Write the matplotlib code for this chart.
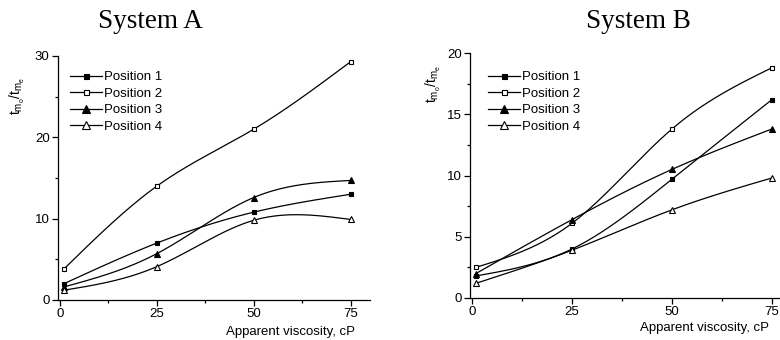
import numpy as np
import matplotlib
matplotlib.use("Agg")
import matplotlib.pyplot as plt
from matplotlib.ticker import MultipleLocator
from matplotlib.lines import Line2D

plt.rcParams['font.family'] = ['Liberation Sans', 'DejaVu Sans']

# apparent viscosity, cP
viscosity = [1, 25, 50, 75]

# System A, t_mo/t_me
a_pos1 = [2.0, 7.0, 10.8, 13.0]
a_pos2 = [3.8, 14.0, 21.0, 29.3]
a_pos3 = [1.6, 5.7, 12.6, 14.7]
a_pos4 = [1.2, 4.1, 9.8, 9.9]

# System B
b_pos1 = [1.8, 4.0, 9.7, 16.2]
b_pos2 = [2.5, 6.1, 13.8, 18.8]
b_pos3 = [2.0, 6.4, 10.5, 13.8]
b_pos4 = [1.2, 3.9, 7.2, 9.8]

labels = ["Position 1", "Position 2", "Position 3", "Position 4"]
markers = ["s", "s", "^", "^"]
faces = ["black", "white", "black", "white"]


# natural cubic spline, only used to draw the smooth connecting line
def spline(x, y, n=200):
    x = np.asarray(x, float)
    y = np.asarray(y, float)
    k = len(x)
    h = np.diff(x)
    A = np.zeros((k, k))
    r = np.zeros(k)
    A[0, 0] = A[-1, -1] = 1
    for i in range(1, k - 1):
        A[i, i - 1] = h[i - 1]
        A[i, i] = 2 * (h[i - 1] + h[i])
        A[i, i + 1] = h[i]
        r[i] = 3 * ((y[i + 1] - y[i]) / h[i] - (y[i] - y[i - 1]) / h[i - 1])
    c = np.linalg.solve(A, r)
    b = (y[1:] - y[:-1]) / h - h * (2 * c[:-1] + c[1:]) / 3
    d = (c[1:] - c[:-1]) / (3 * h)
    xs = np.linspace(x[0], x[-1], n)
    idx = np.clip(np.searchsorted(x, xs) - 1, 0, k - 2)
    dx = xs - x[idx]
    ys = y[idx] + b[idx] * dx + c[idx] * dx ** 2 + d[idx] * dx ** 3
    return xs, ys


def panel(ax, series, ymax, ystep):
    for vals, m, fc in zip(series, markers, faces):
        xs, ys = spline(viscosity, vals)
        ax.plot(xs, ys, color="black", lw=0.9)
        ms = 3.4 if m == "s" else 4.8
        ax.plot(viscosity, vals, ls="none", marker=m, ms=ms,
                mfc=fc, mec="black", mew=0.8, clip_on=False)
    ax.set_xlim(-0.5, 80)
    ax.set_ylim(0, ymax)
    ax.xaxis.set_major_locator(MultipleLocator(25))
    ax.xaxis.set_minor_locator(MultipleLocator(12.5))
    ax.yaxis.set_major_locator(MultipleLocator(ystep))
    ax.yaxis.set_minor_locator(MultipleLocator(ystep / 2))
    ax.spines["top"].set_visible(False)
    ax.spines["right"].set_visible(False)
    for s in ("left", "bottom"):
        ax.spines[s].set_linewidth(0.9)
    ax.tick_params(which="major", length=4, width=0.9, labelsize=9.5, pad=2)
    ax.tick_params(which="minor", length=2.5, width=0.9)
    handles = [Line2D([], [], color="black", lw=0.9, marker=m,
                      ms=(3.6 if m == "s" else 5.2), mfc=fc, mec="black", mew=0.8)
               for m, fc in zip(markers, faces)]
    return handles


fig = plt.figure(figsize=(7.8, 3.4), dpi=100)

axA = fig.add_axes([58 / 780, 40 / 340, 312 / 780, 244 / 340])
hA = panel(axA, [a_pos1, a_pos2, a_pos3, a_pos4], 30, 10)
axA.legend(hA, labels, loc="upper left", bbox_to_anchor=(70 / 780, 1 - 71 / 340),
           bbox_transform=fig.transFigure, frameon=False, fontsize=9.5,
           handlelength=2.4, handletextpad=0.2, labelspacing=0.32,
           borderpad=0, borderaxespad=0)

axB = fig.add_axes([470 / 780, 42 / 340, 322 / 780, 245 / 340])
hB = panel(axB, [b_pos1, b_pos2, b_pos3, b_pos4], 20, 5)
axB.legend(hB, labels, loc="upper left", bbox_to_anchor=(488 / 780, 1 - 71 / 340),
           bbox_transform=fig.transFigure, frameon=False, fontsize=9.5,
           handlelength=2.4, handletextpad=0.2, labelspacing=0.32,
           borderpad=0, borderaxespad=0)

# titles
fig.text(150 / 780, 1 - 22 / 340, "System A", family="Liberation Serif",
         fontsize=19.5, ha="center", va="center")
fig.text(638 / 780, 1 - 22 / 340, "System B", family="Liberation Serif",
         fontsize=19.5, ha="center", va="center")

# axis labels
ylab = r"$\mathregular{t_{m_o}/t_{m_e}}$"
fig.text(17 / 780, 1 - 96 / 340, ylab, rotation=90, fontsize=10,
         ha="center", va="center")
fig.text(433 / 780, 1 - 84 / 340, ylab, rotation=90, fontsize=10,
         ha="center", va="center")
fig.text(355 / 780, 1 - 332 / 340, "Apparent viscosity, cP", fontsize=9.5,
         ha="right", va="center")
fig.text(769 / 780, 1 - 328 / 340, "Apparent viscosity, cP", fontsize=9.5,
         ha="right", va="center")

fig.savefig("out.png", dpi=100)
